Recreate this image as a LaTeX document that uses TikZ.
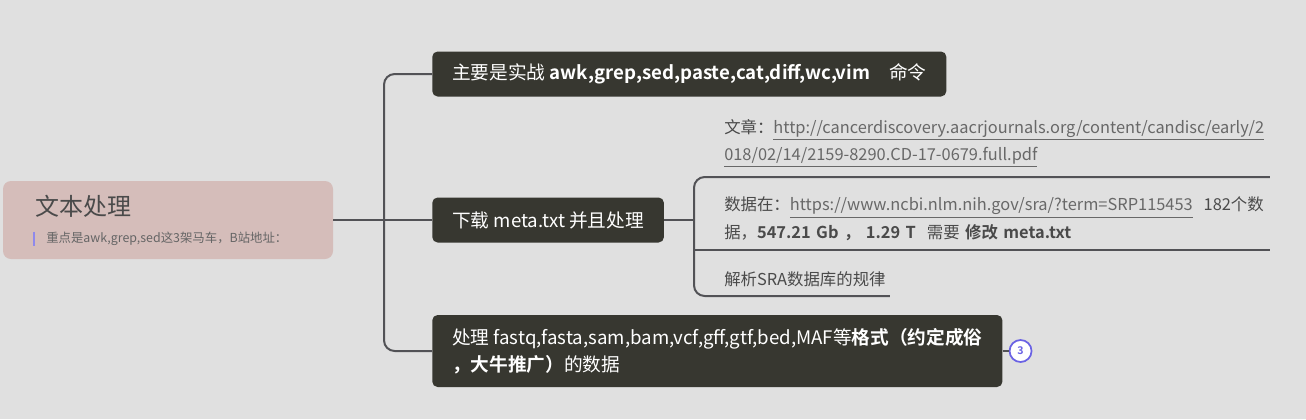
\documentclass[tikz,border=0pt]{standalone}
\usepackage{fontspec}
\setmainfont{Noto Sans CJK SC}[BoldFont={Noto Sans CJK SC Bold}]
\usetikzlibrary{positioning}
\definecolor{canvas}{RGB}{224,224,224}
\definecolor{rosebox}{RGB}{213,189,186}
\definecolor{darkbox}{RGB}{55,55,48}
\definecolor{inkgray}{RGB}{74,74,74}
\definecolor{linkgray}{RGB}{104,104,104}
\definecolor{linecol}{RGB}{82,82,86}
\definecolor{badgeblue}{RGB}{106,98,228}

\begin{document}
\begin{tikzpicture}[
    x=0.75pt, y=-0.75pt,
    rootbox/.style={rectangle, rounded corners=6pt, fill=rosebox, minimum width=247.5pt, minimum height=58.5pt},
    topic/.style={rectangle, rounded corners=4pt, fill=darkbox, text=white, font=\fontsize{14}{20}\selectfont, inner xsep=15pt, minimum height=33.75pt, anchor=west, align=left},
    leaf/.style={anchor=south west, text=inkgray, font=\fontsize{12.3}{20.5}\selectfont, inner xsep=3pt, inner ysep=7pt, align=left},
    link/.style={draw=linecol, line width=1.5pt},
    badge/.style={circle, draw=badgeblue, fill=white, line width=1.3pt, text=badgeblue, font=\bfseries\fontsize{8}{9}\selectfont, inner sep=0pt, minimum size=16.5pt}
]
    \fill[canvas] (0,0) rectangle (1306,419);
    \useasboundingbox (0,0) rectangle (1306,419);

    \node[rootbox] (root) at (168,220) {};
    \node[anchor=west, text=inkgray, font=\fontsize{18}{22}\selectfont, inner sep=0pt] (title) at (35,206) {文本处理};
    \node[anchor=west, text=inkgray!85, font=\fontsize{9.3}{11}\selectfont, inner sep=0pt] (note) at (46,239) {重点是awk,grep,sed这3架马车，B站地址：};
    \draw[badgeblue!75, line width=1.5pt] ([xshift=-9pt]note.north west) -- ([xshift=-9pt]note.south west);

    \node[topic] (t1) at (432,74) {主要是实战 \textbf{awk,grep,sed,paste,cat,diff,wc,vim}\quad 命令};
    \node[topic] (t2) at (432,220) {下载 meta.txt 并且处理};
    \node[topic, minimum height=54pt] (t3) at (432,351) {处理 fastq,fasta,sam,bam,vcf,gff,gtf,bed,MAF等\textbf{格式（约定成俗}\\\textbf{，大牛推广）}的数据};
    \node[badge, right=4.5pt of t3] (n3) {3};

    \node[leaf, text width=406pt] (l1) at (720,177) {文章：\textcolor{linkgray}{\underline{http://cancerdiscovery.aacrjournals.org/content/candisc/early/2}}\\\textcolor{linkgray}{\underline{018/02/14/2159-8290.CD-17-0679.full.pdf}}};
    \node[leaf, text width=406pt] (l2) at (720,250) {数据在：\textcolor{linkgray}{\underline{https://www.ncbi.nlm.nih.gov/sra/?term=SRP115453}}\ \ 182个数\\据，\textbf{547.21 Gb ，\ 1.29 T}\ \ 需要 \textbf{修改 meta.txt}};
    \node[leaf] (l3) at (720,296) {解析SRA数据库的规律};

    \coordinate (fork) at (384,220);
    \coordinate (subfork) at (694,220);

    \draw[link] (root.east) -- (t2.west);
    \draw[link, rounded corners=8pt] (t1.west) -| (fork) |- (t3.west);
    \draw[link] (t2.east) -- (subfork);
    \draw[link, rounded corners=8pt] (l1.south east) -| (subfork) |- (l3.south east);
    \draw[link] (subfork |- l2.south) -- (l2.south east);
    \draw[link, line width=1pt] (t3.east) -- (n3.west);
\end{tikzpicture}
\end{document}
